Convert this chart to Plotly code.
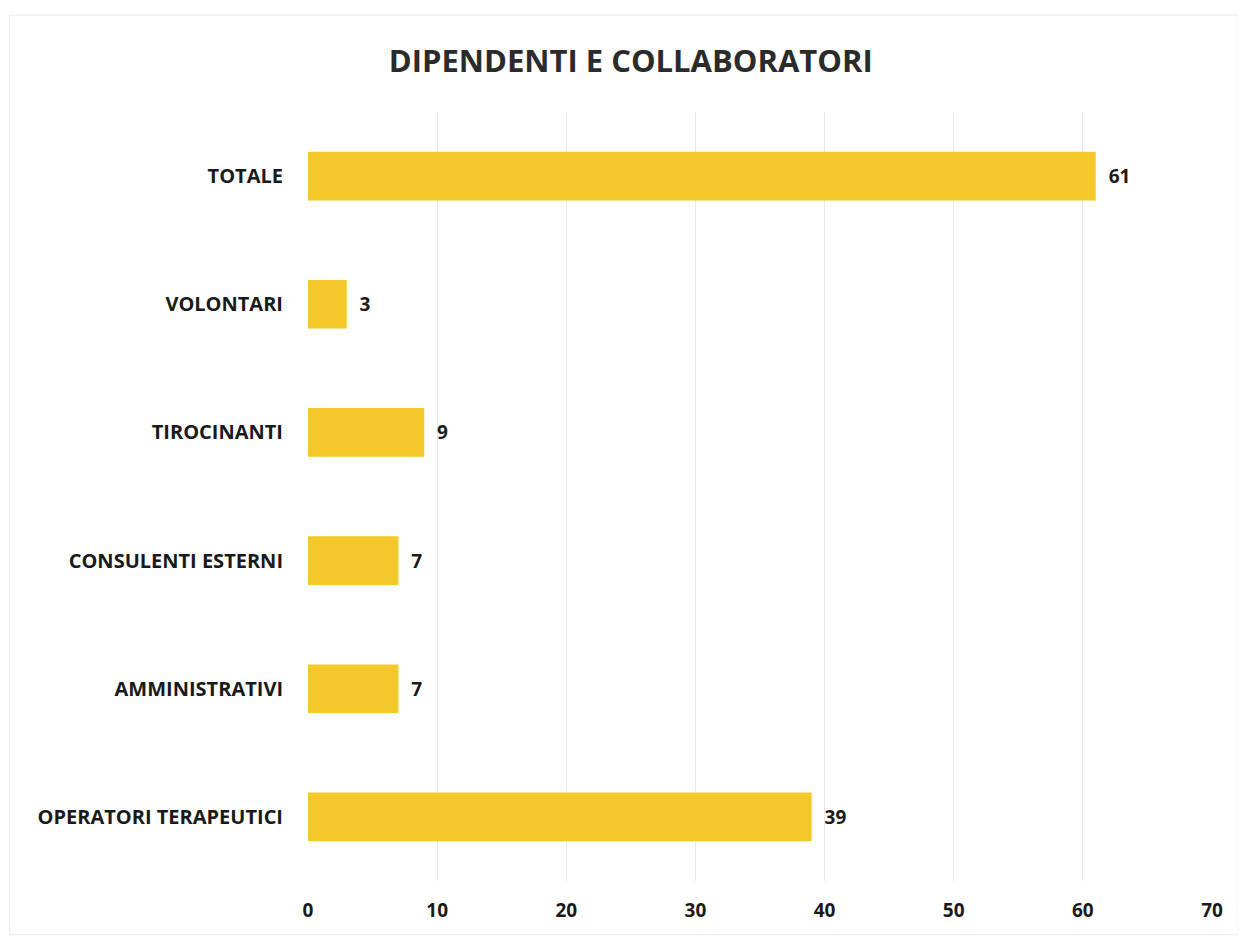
import plotly.graph_objects as go

categories = ["OPERATORI TERAPEUTICI", "AMMINISTRATIVI", "CONSULENTI ESTERNI",
              "TIROCINANTI", "VOLONTARI", "TOTALE"]
values = [39, 7, 7, 9, 3, 61]
x_ticks = [0, 10, 20, 30, 40, 50, 60, 70]

BAR_COLOR = "#F4C72A"
TEXT_COLOR = "#1a1a1a"
FONT = "Open Sans"

fig = go.Figure(go.Bar(
    x=values,
    y=categories,
    orientation="h",
    marker=dict(color=BAR_COLOR, line=dict(width=0)),
    text=values,
    texttemplate="  %{x}",
    textposition="outside",
    textfont=dict(family=FONT, size=19, color=TEXT_COLOR, weight="bold"),
    cliponaxis=False,
))

fig.update_layout(
    width=1238, height=928,
    paper_bgcolor="white", plot_bgcolor="white",
    margin=dict(l=300, r=34, t=104, b=55),
    bargap=0.62,
    showlegend=False,
    title=dict(text="DIPENDENTI E COLLABORATORI",
               x=0.503, xanchor="center", y=0.943, yanchor="middle",
               font=dict(family=FONT, size=31, color="#2b2b2b", weight="bold")),
    xaxis=dict(range=[0, 70], tickvals=x_ticks,
               showgrid=True, gridcolor="#e6e9ee", gridwidth=1,
               zeroline=False, showline=False, ticks="",
               ticklabelstandoff=16,
               tickfont=dict(family=FONT, size=19, color=TEXT_COLOR, weight="bold")),
    yaxis=dict(categoryorder="array", categoryarray=categories,
               showgrid=False, zeroline=False, showline=False, ticks="",
               ticklabelstandoff=24,
               tickfont=dict(family=FONT, size=20, color=TEXT_COLOR, weight="bold")),
    shapes=[dict(type="rect", xref="paper", yref="paper",
                 x0=-0.33, x1=1.029, y0=-0.07, y1=1.126,
                 line=dict(color="#e8ebef", width=1))],
)

fig.write_html("out.html")
